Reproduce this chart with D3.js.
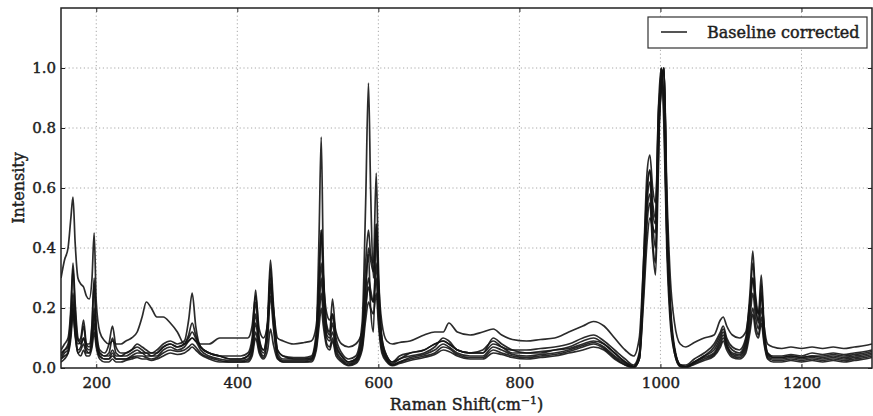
<!DOCTYPE html>
<html>
<head>
<meta charset="utf-8">
<script src="https://cdn.jsdelivr.net/npm/d3@7"></script>
<style>
  body { margin: 0; background: #fff; }
  text { font-family: "DejaVu Serif", serif; fill: #1e1e1e; stroke: #1e1e1e; stroke-width: 0.45px; }
</style>
</head>
<body>
<svg id="chart" width="873" height="416"></svg>
<script>
// wavenumber grid shared by every spectrum (cm-1)
const shift = [
  150,155,160,164,167,170,174,178,182,186,
  190,194,197,200,205,212,218,223,228,235,
  242,250,258,265,271,278,286,295,305,315,
  325,331,336,341,348,360,375,390,405,415,
  421,426,431,437,443,447,451,457,465,480,
  495,505,512,516,519,522,527,531,535,540,
  548,558,568,577,582,586,589,593,597,600,
  605,612,620,630,645,665,680,692,700,712,
  730,748,763,775,790,810,830,850,870,890,
  905,920,935,950,962,970,976,981,985,989,
  993,997,1001,1005,1009,1014,1020,1028,1036,1048,
  1062,1076,1085,1089,1094,1102,1112,1121,1127,1131,
  1135,1139,1143,1147,1152,1160,1172,1185,1200,1215,
  1230,1245,1260,1275,1290,1300
];

// baseline corrected intensities, one array per spectrum
const spec1 = [
  .30,.36,.40,.50,.57,.42,.30,.28,.27,.24,
  .23,.30,.45,.22,.12,.09,.08,.09,.08,.08,
  .09,.10,.12,.17,.22,.20,.17,.17,.15,.12,
  .08,.09,.10,.09,.08,.08,.10,.10,.10,.10,
  .14,.24,.13,.10,.15,.28,.20,.10,.09,.08,
  .085,.09,.14,.30,.46,.30,.18,.16,.18,.12,
  .08,.07,.08,.12,.25,.40,.36,.32,.48,.30,
  .15,.09,.08,.085,.09,.11,.12,.12,.15,.12,
  .11,.12,.13,.11,.095,.09,.095,.10,.12,.14,
  .155,.14,.10,.06,.04,.10,.35,.60,.66,.55,
  .50,.75,.95,1.0,.60,.30,.15,.08,.07,.085,
  .10,.11,.16,.17,.14,.11,.10,.12,.22,.30,
  .22,.18,.24,.14,.08,.07,.065,.07,.065,.07,
  .065,.07,.065,.07,.075,.08
];
const spec2 = [
  .06,.08,.10,.20,.35,.22,.10,.08,.10,.08,
  .08,.15,.30,.14,.06,.05,.08,.14,.07,.05,
  .05,.06,.07,.06,.05,.05,.06,.08,.09,.08,
  .09,.16,.25,.14,.07,.05,.04,.04,.04,.05,
  .10,.26,.10,.06,.14,.33,.20,.06,.04,.035,
  .035,.04,.12,.45,.77,.35,.14,.12,.23,.10,
  .05,.03,.04,.15,.55,.95,.60,.30,.45,.25,
  .10,.04,.02,.04,.05,.06,.08,.09,.08,.06,
  .05,.06,.09,.07,.06,.06,.065,.07,.08,.10,
  .11,.09,.06,.03,.01,.05,.30,.58,.66,.52,
  .48,.85,1.0,.88,.45,.18,.06,.01,.01,.03,
  .05,.08,.12,.14,.10,.07,.06,.10,.25,.39,
  .22,.15,.28,.12,.05,.04,.04,.045,.04,.05,
  .045,.05,.045,.05,.055,.06
];
const spec3 = [
  .04,.06,.08,.18,.33,.20,.09,.10,.16,.08,
  .07,.14,.28,.12,.05,.04,.04,.06,.04,.04,
  .05,.06,.08,.07,.06,.05,.05,.07,.08,.07,
  .08,.11,.15,.11,.07,.05,.04,.03,.03,.04,
  .08,.22,.09,.06,.16,.36,.22,.06,.04,.03,
  .03,.035,.10,.30,.46,.30,.13,.11,.18,.08,
  .04,.02,.03,.12,.35,.46,.38,.35,.65,.35,
  .10,.04,.02,.03,.05,.06,.08,.09,.08,.06,
  .05,.05,.08,.07,.05,.05,.055,.06,.07,.09,
  .10,.08,.05,.02,.005,.04,.35,.65,.71,.60,
  .55,.80,.92,1.0,.55,.22,.07,.01,.005,.02,
  .04,.07,.11,.13,.09,.06,.05,.09,.22,.35,
  .24,.18,.31,.14,.05,.035,.035,.04,.035,.04,
  .04,.045,.04,.045,.05,.055
];
const spec4 = [
  .05,.06,.07,.14,.25,.15,.08,.09,.14,.07,
  .06,.10,.18,.10,.05,.04,.05,.10,.05,.04,
  .04,.05,.06,.05,.05,.04,.05,.07,.08,.07,
  .08,.10,.12,.10,.07,.05,.04,.03,.03,.04,
  .07,.18,.08,.05,.14,.30,.18,.05,.03,.03,
  .03,.03,.09,.24,.35,.24,.11,.10,.15,.07,
  .04,.02,.03,.10,.28,.38,.20,.12,.48,.28,
  .09,.03,.015,.03,.04,.05,.07,.10,.09,.06,
  .05,.05,.10,.08,.06,.05,.05,.06,.065,.08,
  .09,.08,.05,.02,.005,.04,.30,.55,.62,.48,
  .40,.70,1.0,.85,.45,.18,.06,.01,.005,.02,
  .04,.06,.10,.12,.08,.05,.045,.08,.20,.30,
  .20,.16,.25,.12,.045,.035,.035,.04,.035,.04,
  .035,.04,.035,.04,.045,.05
];
const spec5 = [
  .03,.05,.06,.12,.20,.12,.06,.07,.10,.06,
  .05,.08,.15,.08,.04,.03,.03,.05,.03,.03,
  .03,.04,.05,.05,.04,.04,.04,.06,.07,.06,
  .07,.09,.10,.09,.06,.04,.03,.025,.025,.03,
  .06,.15,.07,.04,.12,.27,.16,.04,.025,.025,
  .025,.03,.08,.20,.30,.20,.10,.09,.12,.06,
  .03,.015,.025,.08,.20,.27,.24,.22,.35,.20,
  .07,.03,.01,.02,.035,.045,.06,.08,.07,.05,
  .04,.04,.07,.06,.045,.04,.045,.05,.06,.075,
  .085,.07,.04,.015,.003,.03,.28,.52,.58,.42,
  .35,.75,.92,1.0,.50,.20,.06,.01,.003,.02,
  .035,.05,.09,.11,.075,.045,.04,.07,.17,.25,
  .17,.13,.20,.10,.04,.03,.03,.035,.03,.035,
  .03,.035,.03,.035,.04,.045
];
const spec6 = [
  .03,.04,.05,.10,.18,.11,.05,.06,.08,.05,
  .05,.10,.20,.09,.04,.03,.03,.04,.03,.03,
  .03,.035,.04,.04,.035,.03,.035,.05,.06,.055,
  .06,.07,.08,.07,.05,.035,.025,.02,.02,.025,
  .05,.12,.06,.035,.10,.24,.14,.035,.02,.02,
  .02,.025,.07,.17,.25,.17,.08,.07,.10,.05,
  .025,.01,.02,.07,.20,.30,.26,.22,.30,.18,
  .06,.025,.01,.02,.03,.04,.05,.07,.065,.045,
  .035,.035,.06,.05,.04,.035,.04,.045,.055,.07,
  .08,.065,.035,.01,.002,.03,.25,.48,.55,.40,
  .31,.65,1.0,.80,.40,.15,.05,.005,.002,.015,
  .03,.045,.08,.10,.07,.04,.035,.06,.14,.20,
  .14,.11,.17,.09,.035,.025,.025,.03,.025,.03,
  .025,.03,.025,.03,.035,.04
];
const spec7 = [
  .02,.03,.05,.12,.22,.12,.05,.04,.06,.04,
  .04,.07,.12,.07,.03,.02,.02,.03,.02,.02,
  .025,.03,.035,.03,.03,.025,.03,.04,.05,.045,
  .05,.06,.07,.06,.045,.03,.02,.02,.02,.02,
  .04,.10,.05,.03,.06,.13,.08,.03,.02,.02,
  .02,.02,.06,.14,.20,.14,.07,.06,.09,.04,
  .02,.008,.015,.06,.16,.22,.20,.18,.25,.15,
  .05,.02,.008,.015,.025,.035,.045,.06,.055,.04,
  .03,.03,.05,.045,.035,.03,.035,.04,.05,.06,
  .07,.06,.03,.01,.002,.03,.22,.42,.50,.47,
  .45,.85,.95,1.0,.55,.20,.05,.005,.002,.012,
  .025,.04,.07,.09,.06,.035,.03,.05,.12,.18,
  .12,.10,.15,.08,.03,.02,.02,.025,.02,.025,
  .02,.025,.02,.025,.03,.035
];
const spectra = [spec1, spec2, spec3, spec4, spec5, spec6, spec7];

const xTicks = [200, 400, 600, 800, 1000, 1200];
const yTicks = [0, 0.2, 0.4, 0.6, 0.8, 1.0];
const legendLabel = "Baseline corrected";

const W = 873, H = 416;
const margin = { top: 8, right: 1, bottom: 48, left: 61 };
const svg = d3.select("#chart");

const x = d3.scaleLinear().domain([150, 1300]).range([margin.left, W - margin.right]);
const y = d3.scaleLinear().domain([0, 1.2]).range([H - margin.bottom, margin.top]);

// grid
const grid = svg.append("g").attr("stroke", "#a8a8a8").attr("stroke-dasharray", "1.2,2.6");
grid.selectAll(".gx").data(xTicks).enter().append("line")
  .attr("x1", d => x(d)).attr("x2", d => x(d))
  .attr("y1", y(1.2)).attr("y2", y(0));
grid.selectAll(".gy").data(yTicks.slice(1)).enter().append("line")
  .attr("x1", x(150)).attr("x2", x(1300))
  .attr("y1", d => y(d)).attr("y2", d => y(d));

svg.append("clipPath").attr("id", "clip").append("rect")
  .attr("x", x(150)).attr("y", y(1.2))
  .attr("width", x(1300) - x(150)).attr("height", y(0) - y(1.2));

const line = d3.line()
  .x((d, i) => x(shift[i]))
  .y(d => y(d))
  .curve(d3.curveMonotoneX);

svg.append("g").attr("clip-path", "url(#clip)")
  .selectAll("path").data(spectra).enter().append("path")
  .attr("d", d => line(d.slice(0, shift.length)))
  .attr("fill", "none")
  .attr("stroke", "#141414")
  .attr("stroke-opacity", 0.9)
  .attr("stroke-width", 1.7)
  .attr("stroke-linejoin", "round");

// axes, ticks pointing inward
const xAxis = d3.axisBottom(x).tickValues(xTicks).tickFormat(d3.format("d"))
  .tickSizeInner(-4).tickSizeOuter(0).tickPadding(9);
const yAxis = d3.axisLeft(y).tickValues(yTicks).tickFormat(d3.format(".1f"))
  .tickSizeInner(-4).tickSizeOuter(0).tickPadding(5);

const gx = svg.append("g").attr("transform", "translate(0," + y(0) + ")").call(xAxis);
const gy = svg.append("g").attr("transform", "translate(" + x(150) + ",0)").call(yAxis);
svg.append("g").attr("transform", "translate(0," + y(1.2) + ")")
  .call(d3.axisTop(x).tickValues(xTicks).tickSizeInner(-4).tickSizeOuter(0).tickFormat(""));
svg.append("g").attr("transform", "translate(" + x(1300) + ",0)")
  .call(d3.axisRight(y).tickValues(yTicks).tickSizeInner(-4).tickSizeOuter(0).tickFormat(""));
svg.selectAll(".domain").remove();
svg.selectAll(".tick line").attr("stroke", "#222");
[gx, gy].forEach(g => g.selectAll("text").style("font-size", "15px")
  .attr("fill", "#1e1e1e").attr("stroke", "#1e1e1e").attr("stroke-width", 0.45));

svg.append("rect")
  .attr("x", x(150)).attr("y", y(1.2))
  .attr("width", x(1300) - x(150)).attr("height", y(0) - y(1.2))
  .attr("fill", "none").attr("stroke", "#222").attr("stroke-width", 1.5);

// axis titles
const xt = svg.append("text")
  .attr("x", (x(150) + x(1300)) / 2).attr("y", 410)
  .attr("text-anchor", "middle").style("font-size", "16px");
xt.append("tspan").text("Raman Shift(cm");
xt.append("tspan").attr("dy", -6).style("font-size", "11px").text("\u22121");
xt.append("tspan").attr("dy", 6).text(")");

svg.append("text")
  .attr("transform", "translate(24," + ((y(0) + y(1.2)) / 2) + ") rotate(-90)")
  .attr("text-anchor", "middle").style("font-size", "16px")
  .text("Intensity");

// legend
const lg = svg.append("g");
lg.append("rect").attr("x", 648).attr("y", 17).attr("width", 219).attr("height", 31)
  .attr("fill", "#fff").attr("stroke", "#333").attr("stroke-width", 1.2);
lg.append("line").attr("x1", 661).attr("x2", 687).attr("y1", 32).attr("y2", 32)
  .attr("stroke", "#1c1c1c").attr("stroke-width", 1.5);
lg.append("text").attr("x", 707).attr("y", 38).style("font-size", "16px").text(legendLabel);
</script>
</body>
</html>
